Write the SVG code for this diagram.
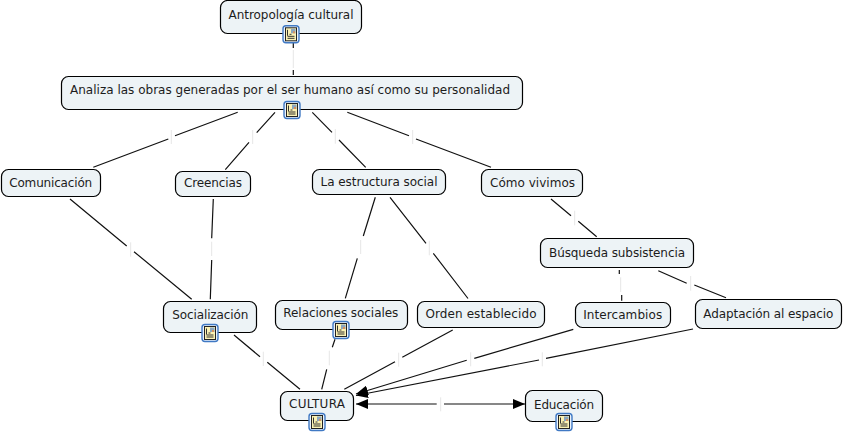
<svg xmlns="http://www.w3.org/2000/svg" width="843" height="433" viewBox="0 0 843 433">
<style>
.n{fill:#edf3f6;stroke:#000;stroke-width:1.2}
.t{font-family:"DejaVu Sans",Verdana,sans-serif;font-size:12px;fill:#1c1c1c;text-anchor:middle}
.c{stroke:#111;stroke-width:1.2;fill:none}
.k{stroke:#e6e6e6;stroke-width:1;fill:none}
</style>
<defs>
<marker id="a" markerWidth="14" markerHeight="10" refX="12" refY="5" orient="auto" markerUnits="userSpaceOnUse"><path d="M0,0L12,5L0,10Z" fill="#000"/></marker>
<g id="ic"><rect x="-8" y="-8.500" width="16" height="17" rx="3" fill="#eaf2fb" stroke="#4079c4" stroke-width="1.400"/><rect x="-5.500" y="-6.500" width="11" height="13" fill="#fbf2b4" stroke="#222" stroke-width="1"/><path d="M-3.500,-4.500v6M-3.500,2h7M-3.500,4h7M-1.500,0h2" stroke="#333" stroke-width="1"/><rect x="0" y="-5.500" width="4.500" height="4.500" fill="#8aa6c0"/><rect x="2" y="-3" width="2" height="2" fill="#d9905a"/></g>
</defs>
<g id="connectors">
<path class="c" d="M293.300,43V48M293.300,70V75M237.700,112.300L175,135.700M168.300,139L93.300,167.300M275,112.300L256.700,132.700M249,142.300L225.300,169.700M312.300,112.300L332,132.300M339,140L365.700,167.300M347.300,112.300L409,135.700M416,139L491,167.300M70,199L126.700,246M134,251.700L191.700,299.300M213.300,199L211.700,238.300M211.700,260L210.300,299.300M375.300,197.300L363.300,236M357.300,258.300L345.300,298.300M390,197.300L426,243.300M433.300,253.300L468,298.500M551,199L571,215.700M578.300,221.300L596.700,236.700M619.300,270V274M621.700,295V300.700M658.300,270.700L686.700,283.300M694.300,285L726,297.700M234,335L260,356.700M267.300,362.300L300,389.300M335,339.300L332.300,347.300M326.700,369.300L321.700,389.300M452.700,330L402.300,357.300M395,361.700L344.300,389.300"/>
<path class="c" d="M573.300,329.300L474.300,358.300"/><path class="c" d="M466.700,360.300L356,394" marker-end="url(#a)"/>
<path class="c" d="M693,329L546,358.300"/><path class="c" d="M539,360L356,395.500" marker-end="url(#a)"/>
<path class="c" d="M436.700,404H356" marker-end="url(#a)"/><path class="c" d="M444,404H525" marker-end="url(#a)"/>
<path class="k" d="M293.300,50V68M171.300,130V144M252.700,130V144M335.300,129V143.700M412.700,130V144M130.700,242.300V256.700M211.700,241.700V256M360.700,240V254M429.300,240.700V255.300M574.700,210.700V225.300M620.700,277.300V292M690.700,276V290.700M263.300,351.700V366M329.300,350.700V365.300M398.700,352.700V366.700M470.700,352.300V366.300M542.300,352.300V366.300M440.700,397.300V411.300"/>
</g>
<g id="n1"><rect class="n" x="220.500" y="0.500" width="141" height="33" rx="7"/><text class="t" x="291" y="19" textLength="125">Antropología cultural</text><use href="#ic" x="291" y="34.300"/></g>
<g id="n2"><rect class="n" x="61.500" y="76.500" width="461" height="33" rx="7"/><text class="t" x="290" y="94" textLength="440">Analiza las obras generadas por el ser humano así como su personalidad</text><use href="#ic" x="292" y="110"/></g>
<g id="n3"><rect class="n" x="1.500" y="169.500" width="99" height="27" rx="7"/><text class="t" x="50.700" y="187" textLength="83">Comunicación</text></g>
<g id="n4"><rect class="n" x="175.500" y="171.500" width="75" height="25" rx="7"/><text class="t" x="213" y="187" textLength="58">Creencias</text></g>
<g id="n5"><rect class="n" x="312.500" y="169.500" width="133" height="25" rx="7"/><text class="t" x="379" y="186" textLength="117">La estructura social</text></g>
<g id="n6"><rect class="n" x="481.500" y="169.500" width="101" height="27" rx="7"/><text class="t" x="532.500" y="187" textLength="85">Cómo vivimos</text></g>
<g id="n7"><rect class="n" x="540.500" y="238.500" width="153" height="29" rx="7"/><text class="t" x="617" y="257" textLength="136">Búsqueda subsistencia</text></g>
<g id="n8"><rect class="n" x="163.500" y="301.500" width="93" height="31" rx="7"/><text class="t" x="210.300" y="319" textLength="76">Socialización</text><use href="#ic" x="210" y="333"/></g>
<g id="n9"><rect class="n" x="275.500" y="300.500" width="132" height="29" rx="7"/><text class="t" x="340.800" y="317" textLength="115">Relaciones sociales</text><use href="#ic" x="341" y="330"/></g>
<g id="n10"><rect class="n" x="417.500" y="301.500" width="127" height="26" rx="7"/><text class="t" x="481" y="318" textLength="111">Orden establecido</text></g>
<g id="n11"><rect class="n" x="575.500" y="302.500" width="95" height="25" rx="7"/><text class="t" x="622.700" y="319" textLength="79">Intercambios</text></g>
<g id="n12"><rect class="n" x="695.500" y="299.500" width="146" height="29" rx="7"/><text class="t" x="768.300" y="318" textLength="130">Adaptación al espacio</text></g>
<g id="n13"><rect class="n" x="280.500" y="391.500" width="73" height="29" rx="7"/><text class="t" x="317" y="408" textLength="56">CULTURA</text><use href="#ic" x="317" y="422"/></g>
<g id="n14"><rect class="n" x="525.500" y="390.500" width="77" height="31" rx="7"/><text class="t" x="564" y="409" textLength="60">Educación</text><use href="#ic" x="564" y="422"/></g>
</svg>
